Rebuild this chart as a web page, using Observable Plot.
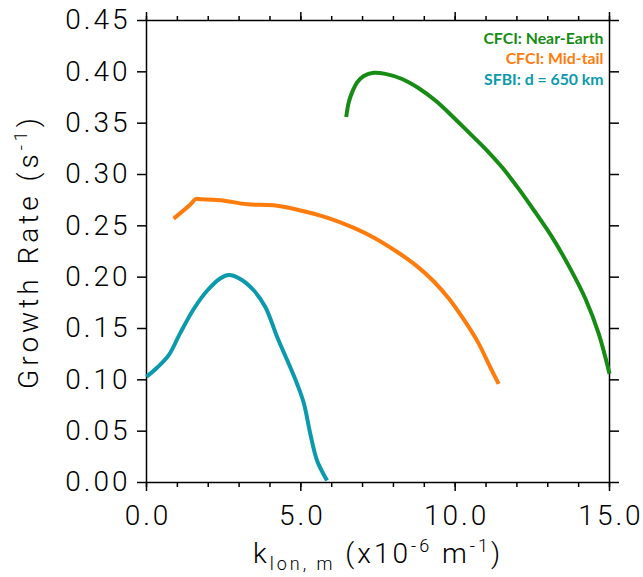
<!DOCTYPE html>
<html><head><meta charset="utf-8">
<script src="https://cdn.jsdelivr.net/npm/d3@7"></script>
<script src="https://cdn.jsdelivr.net/npm/@observablehq/plot@0.6"></script>
<style>body{margin:0;background:#fff}</style>
</head><body><div id="chart"></div>
<script>
// CFCI: Near-Earth
const nearEarthK = [6.47,6.55,6.66,6.83,7.04,7.36,7.74,8.28,8.82,9.36,9.90,10.44,10.98,11.52,12.06,12.60,13.14,13.68,14.22,14.65,15.0];
const nearEarthG = [0.356,0.370,0.380,0.390,0.396,0.399,0.398,0.393,0.384,0.372,0.357,0.341,0.325,0.307,0.286,0.263,0.239,0.211,0.179,0.145,0.106];
// CFCI: Mid-tail
const midTailK = [0.88,1.43,1.59,1.75,2.40,3.26,4.12,4.99,5.85,6.72,7.40,8.10,8.75,9.30,9.80,10.25,10.75,11.14,11.41];
const midTailG = [0.257,0.271,0.276,0.276,0.275,0.271,0.270,0.265,0.258,0.248,0.238,0.225,0.211,0.196,0.179,0.160,0.136,0.112,0.096];
// SFBI: d = 650 km
const sfbiK = [0.00,0.35,0.72,1.10,1.53,1.97,2.40,2.67,3.05,3.48,3.85,4.23,4.56,4.88,5.10,5.31,5.53,5.85];
const sfbiG = [0.103,0.112,0.124,0.146,0.169,0.187,0.199,0.202,0.198,0.187,0.171,0.142,0.119,0.096,0.077,0.047,0.021,0.002];

const seriesNames = ["CFCI: Near-Earth", "CFCI: Mid-tail", "SFBI: d = 650 km"];
const seriesColors = ["#168c14", "#ff7b0c", "#0a9aab"];
const xMajorTicks = [0, 5, 10, 15];
const xMinorTicks = d3.range(0, 16, 1);
const yTicks = [0, 0.05, 0.10, 0.15, 0.20, 0.25, 0.30, 0.35, 0.40, 0.45];
const xTitle = "k_lon, m (x10^-6 m^-1)";
const yTitle = "Growth Rate (s^-1)";

const toRows = (ks, gs, name) => ks.map((k, i) => ({k, g: gs[i], name}));
const rows = [
  ...toRows(nearEarthK, nearEarthG, seriesNames[0]),
  ...toRows(midTailK, midTailG, seriesNames[1]),
  ...toRows(sfbiK, sfbiG, seriesNames[2])
];

const tickFont = {fontSize: 28, fontFamily: "Roboto", fontWeight: 300};

const chart = Plot.plot({
  width: 643,
  height: 577,
  marginLeft: 146,
  marginRight: 34,
  marginTop: 20,
  marginBottom: 95,
  style: {fontFamily: "Roboto", background: "#fff", color: "#000", overflow: "visible"},
  x: {domain: [0, 15]},
  y: {domain: [0, 0.45]},
  color: {domain: seriesNames, range: seriesColors},
  marks: [
    Plot.axisY({anchor: "left", ticks: yTicks, tickSize: 9, tickPadding: 7, strokeWidth: 1.5,
      tickFormat: d => d.toFixed(2), label: null, ...tickFont}),
    Plot.axisY({anchor: "right", ticks: yTicks, tickSize: 9, strokeWidth: 1.5, tickFormat: () => "", label: null}),
    Plot.axisX({anchor: "bottom", ticks: xMajorTicks, tickSize: 9, tickPadding: 14, strokeWidth: 1.5,
      tickFormat: d => d.toFixed(1), label: null, ...tickFont}),
    Plot.axisX({anchor: "bottom", ticks: xMinorTicks, tickSize: 5, strokeWidth: 1.5, tickFormat: () => "", label: null}),
    Plot.axisX({anchor: "top", ticks: xMajorTicks, tickSize: 9, strokeWidth: 1.5, tickFormat: () => "", label: null}),
    Plot.axisX({anchor: "top", ticks: xMinorTicks, tickSize: 5, strokeWidth: 1.5, tickFormat: () => "", label: null}),
    Plot.frame({stroke: "#000", strokeWidth: 1.5}),
    Plot.line(rows, {x: "k", y: "g", z: "name", stroke: "name", strokeWidth: 4, curve: "catmull-rom", strokeLinecap: "butt", strokeLinejoin: "round"}),
    ...seriesNames.map((name, i) => Plot.text([name], {
      text: d => d, frameAnchor: "top-right", textAnchor: "end", lineAnchor: "middle",
      dx: -6, dy: 18 + i * 20.5, fill: seriesColors[i],
      fontSize: 15.8, fontWeight: 700, fontFamily: "Lato"
    })),
    Plot.text([yTitle], {text: d => d, frameAnchor: "left", textAnchor: "middle", dx: -117, rotate: -90, lineAnchor: "middle", ...tickFont}),
    Plot.text([xTitle], {text: d => d, frameAnchor: "bottom", textAnchor: "middle", dy: 72, lineAnchor: "middle", ...tickFont})
  ]
});

const svg = d3.select(chart);
svg.selectAll("g[aria-label='y-axis tick label'] text").style("letter-spacing", "3px");
svg.selectAll("g[aria-label='x-axis tick label'] text").style("letter-spacing", "3px").attr("dx", 1.5);
svg.selectAll("text").each(function() {
  const t = this.textContent;
  const el = d3.select(this);
  if (t === yTitle) {
    el.text(null).style("letter-spacing", "4px");
    el.append("tspan").text("Growth Rate (s");
    el.append("tspan").attr("dy", -11).attr("font-size", 18).text("-1");
    el.append("tspan").attr("dy", 11).text(")");
  } else if (t === xTitle) {
    el.text(null).style("letter-spacing", "3px");
    el.append("tspan").text("k");
    el.append("tspan").attr("dy", 7).attr("font-size", 18).text("lon, m");
    el.append("tspan").attr("dy", -7).text(" (x10");
    el.append("tspan").attr("dy", -11).attr("font-size", 18).text("-6");
    el.append("tspan").attr("dy", 11).text(" m");
    el.append("tspan").attr("dy", -11).attr("font-size", 18).text("-1");
    el.append("tspan").attr("dy", 11).text(")");
  }
});
document.getElementById("chart").appendChild(chart);
</script>
</body></html>
